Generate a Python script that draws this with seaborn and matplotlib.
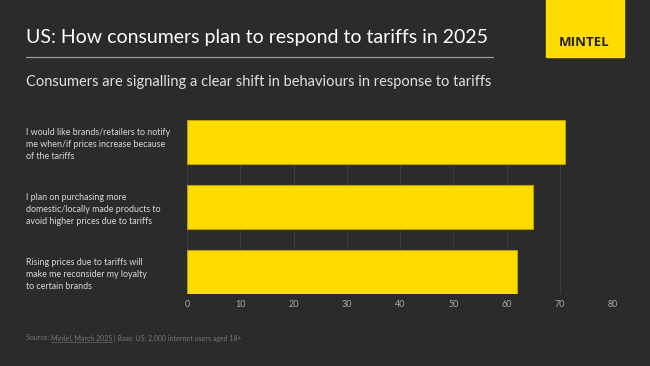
import pandas as pd
import matplotlib.pyplot as plt
import matplotlib.patches as mpatches
import seaborn as sns

# Data
statements = [
    "I would like brands/retailers to notify\nme when/if prices increase because\nof the tariffs",
    "I plan on purchasing more\ndomestic/locally made products to\navoid higher prices due to tariffs",
    "Rising prices due to tariffs will\nmake me reconsider my loyalty\nto certain brands",
]
shares = [71, 65, 62]
x_ticks = [0, 10, 20, 30, 40, 50, 60, 70, 80]

df = pd.DataFrame({"Statement": statements, "Share": shares})

# Colours
bg = "#2b2b2b"
yellow = "#ffdc00"

sns.set_theme(style="dark")
plt.rcParams["font.family"] = ["Lato", "DejaVu Sans"]

fig = plt.figure(figsize=(6.5, 3.66), dpi=100, facecolor=bg)
ax = fig.add_axes([0.2877, 0.1967, 0.6554, 0.4754])
ax.set_facecolor(bg)

sns.barplot(data=df, x="Share", y="Statement", orient="h", color=yellow,
            saturation=1, width=0.68, edgecolor="#b89e00", linewidth=0.8, ax=ax)

ax.set_xlim(0, 80)
ax.set_ylim(2.34, -0.34)
ax.set_xticks(x_ticks)
ax.set_xticklabels([str(t) for t in x_ticks], color="#aaaaaa", fontsize=6.5)
ax.grid(axis="x", color="#3c3c3c", linewidth=0.8)
ax.set_axisbelow(True)
for s in ax.spines.values():
    s.set_visible(False)
ax.set_xlabel("")
ax.set_ylabel("")
ax.tick_params(axis="x", length=0, pad=4)
ax.tick_params(axis="y", length=0, pad=(187 - 26) * 0.72)
for lab in ax.get_yticklabels():
    lab.set_horizontalalignment("left")
    lab.set_color("#d8d8d8")
    lab.set_fontsize(6.4)
    lab.set_linespacing(1.45)

# Header
fig.text(26 / 650, 1 - 37 / 366, "US: How consumers plan to respond to tariffs in 2025",
         color="white", fontsize=14, va="center", ha="left")
fig.add_artist(plt.Line2D([26 / 650, 493 / 650], [1 - 57 / 366, 1 - 57 / 366],
                          color="#9a9a9a", linewidth=0.9))
fig.text(26 / 650, 1 - 82 / 366,
         "Consumers are signalling a clear shift in behaviours in response to tariffs",
         color="#e0e0e0", fontsize=10.5, va="center", ha="left")

# Logo box
fig.add_artist(mpatches.Rectangle((546 / 650, 1 - 57 / 366), 78 / 650, 57 / 366,
                                  transform=fig.transFigure, color=yellow))
fig.text(584 / 650, 1 - 42 / 366, "MINTEL", color="#222222", fontsize=9.5,
         fontweight="bold", family=["Open Sans", "DejaVu Sans"],
         ha="center", va="center")

# Source line
y_src = 1 - 338 / 366
t1 = fig.text(26 / 650, y_src, "Source: ", color="#777777", fontsize=5, va="center")
fig.canvas.draw()
r = fig.canvas.get_renderer()
bb = t1.get_window_extent(r)
x2 = bb.x1 / fig.bbox.width
t2 = fig.text(x2, y_src, "Mintel, March 2025", color="#777777", fontsize=5, va="center")
bb2 = t2.get_window_extent(r)
fig.add_artist(plt.Line2D([x2, bb2.x1 / fig.bbox.width],
                          [bb2.y0 / fig.bbox.height] * 2, color="#777777", linewidth=0.4))
fig.text(bb2.x1 / fig.bbox.width, y_src, " | Base: US: 2,000 internet users aged 18+",
         color="#777777", fontsize=5, va="center")

plt.savefig("out.png", dpi=100, facecolor=bg)
